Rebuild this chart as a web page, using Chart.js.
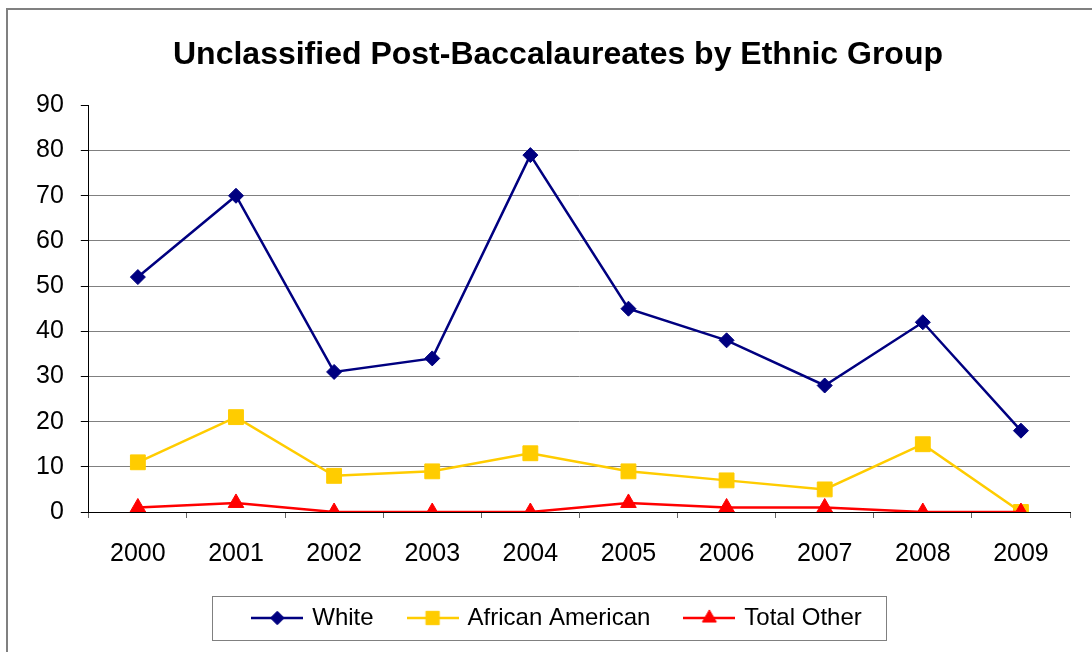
<!DOCTYPE html>
<html>
<head>
<meta charset="utf-8">
<script src="https://cdn.jsdelivr.net/npm/chart.js@4/dist/chart.umd.min.js"></script>
<style>
  html, body { margin: 0; padding: 0; background: #fff; }
  #wrap { position: relative; width: 1092px; height: 652px; }
</style>
</head>
<body>
<div id="wrap"><canvas id="chart"></canvas></div>
<script>
// Data
const years = ['2000', '2001', '2002', '2003', '2004', '2005', '2006', '2007', '2008', '2009'];
const white = [52, 70, 31, 34, 79, 45, 38, 28, 42, 18];
const africanAmerican = [11, 21, 8, 9, 13, 9, 7, 5, 15, 0];
const totalOther = [1, 2, 0, 0, 0, 2, 1, 1, 0, 0];

const FONT = "'Liberation Sans', Arial, sans-serif";

const seriesStyles = [
  { label: 'White', data: white, color: '#000080', pointStyle: 'rectRot', radius: 7.5, order: 0 },
  { label: 'African American', data: africanAmerican, color: '#FFCC00', pointStyle: 'rect', radius: 10.5, order: 2 },
  { label: 'Total Other', data: totalOther, color: '#FF0000', pointStyle: 'triangle', radius: 9, order: 1 }
];

// little line + marker icons for the legend
function makeIcon(s) {
  const c = document.createElement('canvas');
  c.width = 52;
  c.height = 22;
  const ctx = c.getContext('2d');
  ctx.strokeStyle = s.color;
  ctx.fillStyle = s.color;
  ctx.lineWidth = 2.5;
  ctx.beginPath();
  ctx.moveTo(0, 11);
  ctx.lineTo(52, 11);
  ctx.stroke();
  ctx.lineWidth = 1;
  Chart.helpers.drawPoint(ctx, { pointStyle: s.pointStyle, radius: s.radius * 0.9, rotation: 0, borderWidth: 1 }, 26, 11);
  return c;
}
const legendIcons = seriesStyles.map(makeIcon);

// white page with grey frame
const framePlugin = {
  id: 'frame',
  beforeDraw(chart) {
    const ctx = chart.ctx;
    ctx.save();
    ctx.fillStyle = '#fff';
    ctx.fillRect(0, 0, chart.width, chart.height);
    ctx.strokeStyle = '#808080';
    ctx.lineWidth = 2;
    ctx.strokeRect(7, 9, chart.width + 20, chart.height + 20);
    ctx.restore();
  }
};

// title and legend sit a bit right of the page centre in the original
const shiftPlugin = {
  id: 'shift',
  afterLayout(chart) {
    if (chart.titleBlock) chart.titleBlock.left += 27;
    if (chart.legend) chart.legend.left += 27;
  }
};

// box round the legend
const legendBoxPlugin = {
  id: 'legendBox',
  afterDraw(chart) {
    const boxes = chart.legend.legendHitBoxes;
    if (!boxes || !boxes.length) return;
    const left = Math.min(...boxes.map(b => b.left)) - 42;
    const right = Math.max(...boxes.map(b => b.left + b.width)) + 25;
    const midY = boxes[0].top + boxes[0].height / 2;
    const ctx = chart.ctx;
    ctx.save();
    ctx.strokeStyle = '#808080';
    ctx.lineWidth = 1;
    ctx.strokeRect(Math.round(left) + 0.5, Math.round(midY - 22) + 0.5, Math.round(right - left), 44);
    ctx.restore();
  }
};

new Chart(document.getElementById('chart'), {
  type: 'line',
  data: {
    labels: years,
    datasets: seriesStyles.map(s => ({
      label: s.label,
      data: s.data,
      borderColor: s.color,
      backgroundColor: s.color,
      borderWidth: 2.5,
      pointStyle: s.pointStyle,
      pointRadius: s.radius,
      pointHoverRadius: s.radius,
      pointBorderWidth: 1,
      pointBackgroundColor: s.color,
      pointBorderColor: s.color,
      tension: 0,
      order: s.order
    }))
  },
  options: {
    responsive: true,
    maintainAspectRatio: false,
    animation: false,
    layout: { padding: { left: 19, right: 22, top: 0, bottom: 12 } },
    plugins: {
      tooltip: { enabled: false },
      title: {
        display: true,
        text: 'Unclassified Post-Baccalaureates by Ethnic Group',
        color: '#000',
        font: { family: FONT, size: 32, weight: 'bold' },
        padding: { top: 36, bottom: 31 }
      },
      legend: {
        position: 'bottom',
        labels: {
          color: '#000',
          font: { family: FONT, size: 24 },
          usePointStyle: true,
          pointStyleWidth: 46,
          padding: 36,
          sort: (a, b) => a.datasetIndex - b.datasetIndex,
          generateLabels(chart) {
            const items = Chart.defaults.plugins.legend.labels.generateLabels(chart);
            return items.map(it => Object.assign(it, { pointStyle: legendIcons[it.datasetIndex] }));
          }
        }
      }
    },
    scales: {
      x: {
        offset: true,
        grid: {
          offset: true,
          drawOnChartArea: false,
          drawTicks: true,
          tickLength: 6,
          tickColor: '#666'
        },
        border: { display: true, color: '#000', width: 1 },
        ticks: {
          color: '#000',
          font: { family: FONT, size: 25 },
          padding: 21,
          maxRotation: 0
        },
        afterFit(scale) {
          scale.height -= 20;
        }
      },
      y: {
        min: 0,
        max: 90,
        ticks: {
          stepSize: 10,
          color: '#000',
          font: { family: FONT, size: 25 },
          padding: 17
        },
        grid: {
          color: ctx => (ctx.tick && (ctx.tick.value === 90 || ctx.tick.value === 0)) ? 'rgba(0,0,0,0)' : '#808080',
          tickColor: '#000',
          tickLength: 8,
          lineWidth: 1
        },
        border: { display: true, color: '#000', width: 1 }
      }
    }
  },
  plugins: [framePlugin, shiftPlugin, legendBoxPlugin]
});
</script>
</body>
</html>
